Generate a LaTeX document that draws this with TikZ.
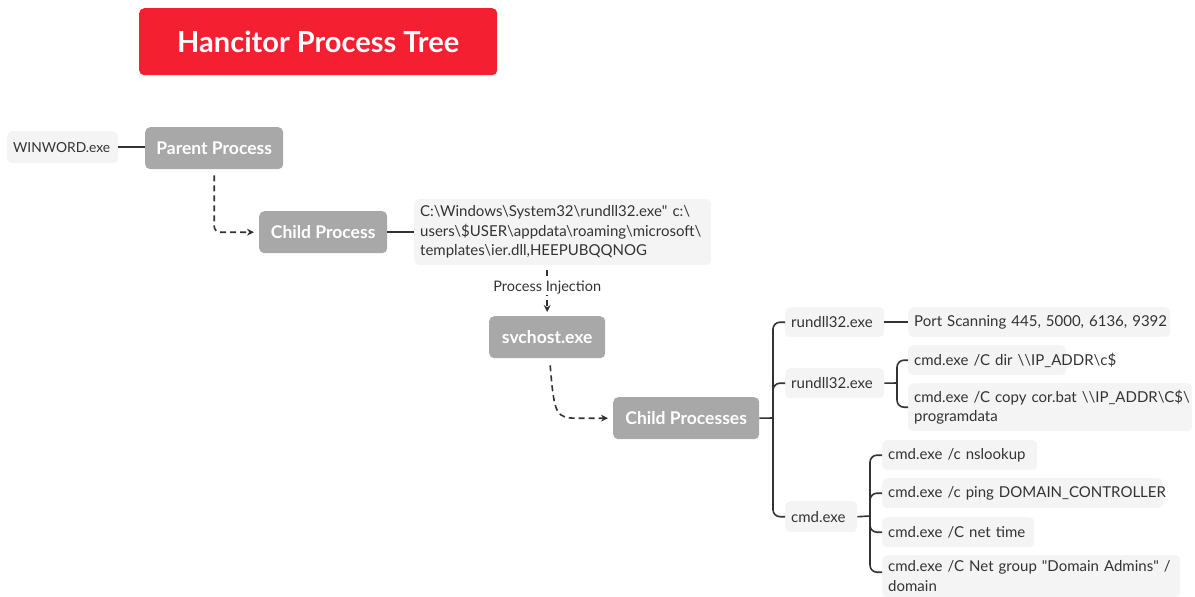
\documentclass[tikz,border=0pt]{standalone}
\usepackage{fontspec}
\setmainfont{Lato}
\usetikzlibrary{arrows.meta}
\definecolor{titlered}{HTML}{F41F30}
\definecolor{graybox}{HTML}{A8A8A8}
\definecolor{lightbox}{HTML}{F4F4F4}
\definecolor{ink}{HTML}{333333}
\tikzset{
  titlebox/.style={anchor=north west, fill=titlered, rounded corners=5pt, inner sep=0pt,
    text=white, font=\fontsize{29}{33}\selectfont\bfseries},
  procbox/.style={anchor=north west, fill=graybox, rounded corners=5pt, inner sep=0pt,
    text=white, font=\fontsize{17.5}{21}\selectfont\bfseries},
  infobox/.style={anchor=north west, fill=lightbox, rounded corners=5pt, inner xsep=6pt, inner ysep=0pt,
    text=ink, align=left, font=\fontsize{15}{19.5}\selectfont},
  link/.style={draw=ink, line width=1.6pt},
  dlink/.style={draw=ink, line width=1.6pt, dash pattern=on 6pt off 4pt, -{Stealth[length=7pt,width=7pt]}},
}
\begin{document}
\begin{tikzpicture}[x=1pt,y=-1pt]
\useasboundingbox (0,0) rectangle (1195,597);
% title
\node[titlebox, minimum width=358pt, minimum height=67pt] (title) at (139,8) {Hancitor Process Tree};
% left part
\node[infobox, text width=99pt, minimum height=32pt, font=\fontsize{13.8}{17}\selectfont] (winword) at (7,131) {\mbox{WINWORD.exe}};
\node[procbox, minimum width=138pt, minimum height=42pt] (parent) at (145,127) {Parent Process};
\node[procbox, minimum width=128pt, minimum height=42pt] (child) at (259,211) {Child Process};
\node[infobox, text width=285pt, minimum height=66pt] (cmdline) at (414,199)
  {\mbox{C:\textbackslash Windows\textbackslash System32\textbackslash rundll32.exe\textquotedbl{} c:\textbackslash}\\
   \mbox{users\textbackslash\$USER\textbackslash appdata\textbackslash roaming\textbackslash microsoft\textbackslash}\\
   \mbox{templates\textbackslash ier.dll,HEEPUBQQNOG}};
\node[procbox, minimum width=116pt, minimum height=42pt] (svchost) at (489,316) {svchost.exe};
\node[procbox, minimum width=146pt, minimum height=42pt] (cp) at (613,397) {Child Processes};
% right tree
\node[infobox, text width=87pt, minimum height=30pt] (r1) at (785,307) {\mbox{rundll32.exe}};
\node[infobox, text width=250pt, minimum height=30pt] (port) at (908,307) {\mbox{Port Scanning 445, 5000, 6136, 9392}};
\node[infobox, text width=87pt, minimum height=30pt] (r2) at (785,368) {\mbox{rundll32.exe}};
\node[infobox, text width=146pt, minimum height=30pt] (dir) at (908,345) {\mbox{cmd.exe /C dir \textbackslash\textbackslash IP\_ADDR\textbackslash c\$}};
\node[infobox, text width=272pt, minimum height=48pt] (copy) at (908,383)
  {\mbox{cmd.exe /C copy cor.bat \textbackslash\textbackslash IP\_ADDR\textbackslash C\$\textbackslash}\\ programdata};
\node[infobox, text width=60pt, minimum height=31pt] (cmd) at (785,501) {\mbox{cmd.exe}};
\node[infobox, text width=143pt, minimum height=30pt] (ns) at (882,440) {\mbox{cmd.exe /c nslookup}};
\node[infobox, text width=269pt, minimum height=30pt] (ping) at (882,478) {\mbox{cmd.exe /c ping DOMAIN\_CONTROLLER}};
\node[infobox, text width=140pt, minimum height=30pt] (nt) at (882,517) {\mbox{cmd.exe /C net time}};
\node[infobox, text width=286pt, minimum height=42pt] (ng) at (882,555)
  {\mbox{cmd.exe /C Net group \textquotedbl Domain Admins\textquotedbl{} /}\\ domain};
% connectors
\draw[link] (winword.east) -- (winword.east -| parent.west);
\draw[dlink, rounded corners=6pt] ([yshift=-6pt]parent.south) |- ([xshift=-5pt]child.west);
\draw[link] (child.east) -- (cmdline.west);
\draw[dlink] ([yshift=-5pt]svchost.north |- cmdline.south) -- node[pos=0.4, fill=white, inner sep=1.5pt, text=ink, font=\fontsize{14.5}{17}\selectfont] {Process Injection} ([yshift=4pt]svchost.north);
\draw[dlink] ([xshift=3pt,yshift=-7pt]svchost.south) .. controls +(4pt,-50pt) and +(-22pt,0pt) .. ([xshift=-35pt]cp.west) -- ([xshift=-5pt]cp.west);
\coordinate (j1) at (773,418);
\draw[link] (cp.east) -- (j1);
\draw[link, rounded corners=7pt] (j1) |- (r1.west);
\draw[link, rounded corners=7pt] (j1) |- (r2.west);
\draw[link, rounded corners=7pt] (j1) |- (cmd.west);
\draw[link] (r1.east) -- (port.west);
\coordinate (j2) at (897,383);
\draw[link] (r2.east) -- (j2);
\draw[link, rounded corners=7pt] (j2) |- (dir.west);
\draw[link, rounded corners=7pt] (j2) |- (copy.west);
\coordinate (j3) at (870,516);
\draw[link] (cmd.east) -- (j3);
\draw[link, rounded corners=7pt] (j3) |- (ns.west);
\draw[link, rounded corners=7pt] (j3) |- (ping.west);
\draw[link, rounded corners=7pt] (j3) |- (nt.west);
\draw[link, rounded corners=7pt] (j3) |- ([yshift=4pt]ng.west);
\end{tikzpicture}
\end{document}
